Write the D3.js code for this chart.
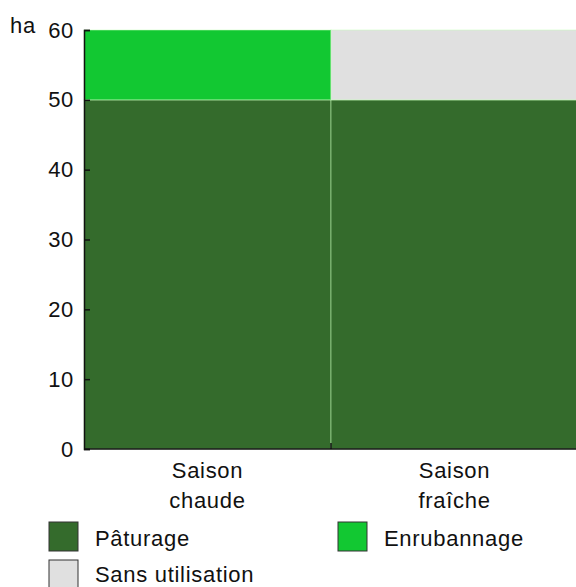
<!DOCTYPE html>
<html>
<head>
<meta charset="utf-8">
<script src="https://cdn.jsdelivr.net/npm/d3@7"></script>
<style>
  body { margin: 0; background: #fff; }
  svg text { font-family: "Liberation Sans", Arial, sans-serif; fill: #111; font-size: 22px; letter-spacing: 0.7px; }
</style>
</head>
<body>
<svg id="chart" width="576" height="587"></svg>
<script>
// data
var saisons = [["Saison", "chaude"], ["Saison", "fraîche"]];
var seriesNames = ["Pâturage", "Enrubannage", "Sans utilisation"];
var seriesColors = ["#346b2c", "#12c832", "#e0e0e0"];
var paturage = [50, 50];
var enrubannage = [10, 0];
var sansUtilisation = [0, 10];
var yTicks = [0, 10, 20, 30, 40, 50, 60];

var rows = saisons.map(function(s, i) {
  return { key: i, paturage: paturage[i], enrubannage: enrubannage[i], sans: sansUtilisation[i] };
});
var keys = ["paturage", "enrubannage", "sans"];

var svg = d3.select('#chart');

var x = d3.scaleBand().domain(rows.map(function(d) { return d.key; }))
  .range([84, 578]).padding(0);
var y = d3.scaleLinear().domain([0, 60]).range([449, 30]);

var stack = d3.stack().keys(keys)(rows);

var layers = svg.append('g').selectAll('g')
  .data(stack).enter().append('g')
  .attr('fill', function(d, i) { return seriesColors[i]; });

layers.selectAll('rect')
  .data(function(d) { return d; })
  .enter().append('rect')
  .filter(function(d) { return d[1] - d[0] > 0; })
  .attr('x', function(d) { return x(d.data.key); })
  .attr('y', function(d) { return y(d[1]); })
  .attr('width', x.bandwidth())
  .attr('height', function(d) { return y(d[0]) - y(d[1]); })
  .attr('stroke', 'rgba(200,255,190,0.35)')
  .attr('stroke-width', 1.5);

// y axis, ticks pointing inward
var yAxis = svg.append('g')
  .attr('transform', 'translate(84,0)')
  .call(d3.axisRight(y).tickValues(yTicks).tickSize(6).tickFormat(''));
yAxis.select('.domain').attr('stroke', '#111').attr('stroke-width', 1.5);
yAxis.selectAll('.tick line').attr('stroke', '#111').attr('stroke-width', 1.5);

svg.append('g').selectAll('text')
  .data(yTicks).enter().append('text')
  .attr('x', 74)
  .attr('y', function(d) { return y(d) + 7.5; })
  .attr('text-anchor', 'end')
  .text(function(d) { return d; });

svg.append('text')
  .attr('x', 10).attr('y', 33)
  .text('ha');

// x axis line and separator tick
svg.append('line')
  .attr('x1', 84).attr('x2', 578)
  .attr('y1', y(0)).attr('y2', y(0))
  .attr('stroke', '#111').attr('stroke-width', 1.5);
svg.append('line')
  .attr('x1', x(1)).attr('x2', x(1))
  .attr('y1', y(0)).attr('y2', y(0) - 6)
  .attr('stroke', '#111').attr('stroke-width', 1.5);

var labels = svg.append('g').selectAll('text')
  .data(rows).enter().append('text')
  .attr('text-anchor', 'middle')
  .attr('x', function(d) { return x(d.key) + x.bandwidth() / 2; })
  .attr('y', 478);
labels.each(function(d) {
  var t = d3.select(this);
  saisons[d.key].forEach(function(line, j) {
    t.append('tspan')
      .attr('x', x(d.key) + x.bandwidth() / 2)
      .attr('dy', j === 0 ? 0 : 30)
      .text(line);
  });
});

// legend
var legendPos = [[49, 522], [338, 522], [49, 560]];
var legend = svg.append('g').selectAll('g')
  .data(seriesNames).enter().append('g')
  .attr('transform', function(d, i) { return 'translate(' + legendPos[i][0] + ',' + legendPos[i][1] + ')'; });
legend.append('rect')
  .attr('width', 29).attr('height', 29)
  .attr('fill', function(d, i) { return seriesColors[i]; })
  .attr('stroke', '#333').attr('stroke-width', 1);
legend.append('text')
  .attr('x', 46).attr('y', function(d, i) { return i === 2 ? 22 : 24; })
  .text(function(d) { return d; });
</script>
</body>
</html>
